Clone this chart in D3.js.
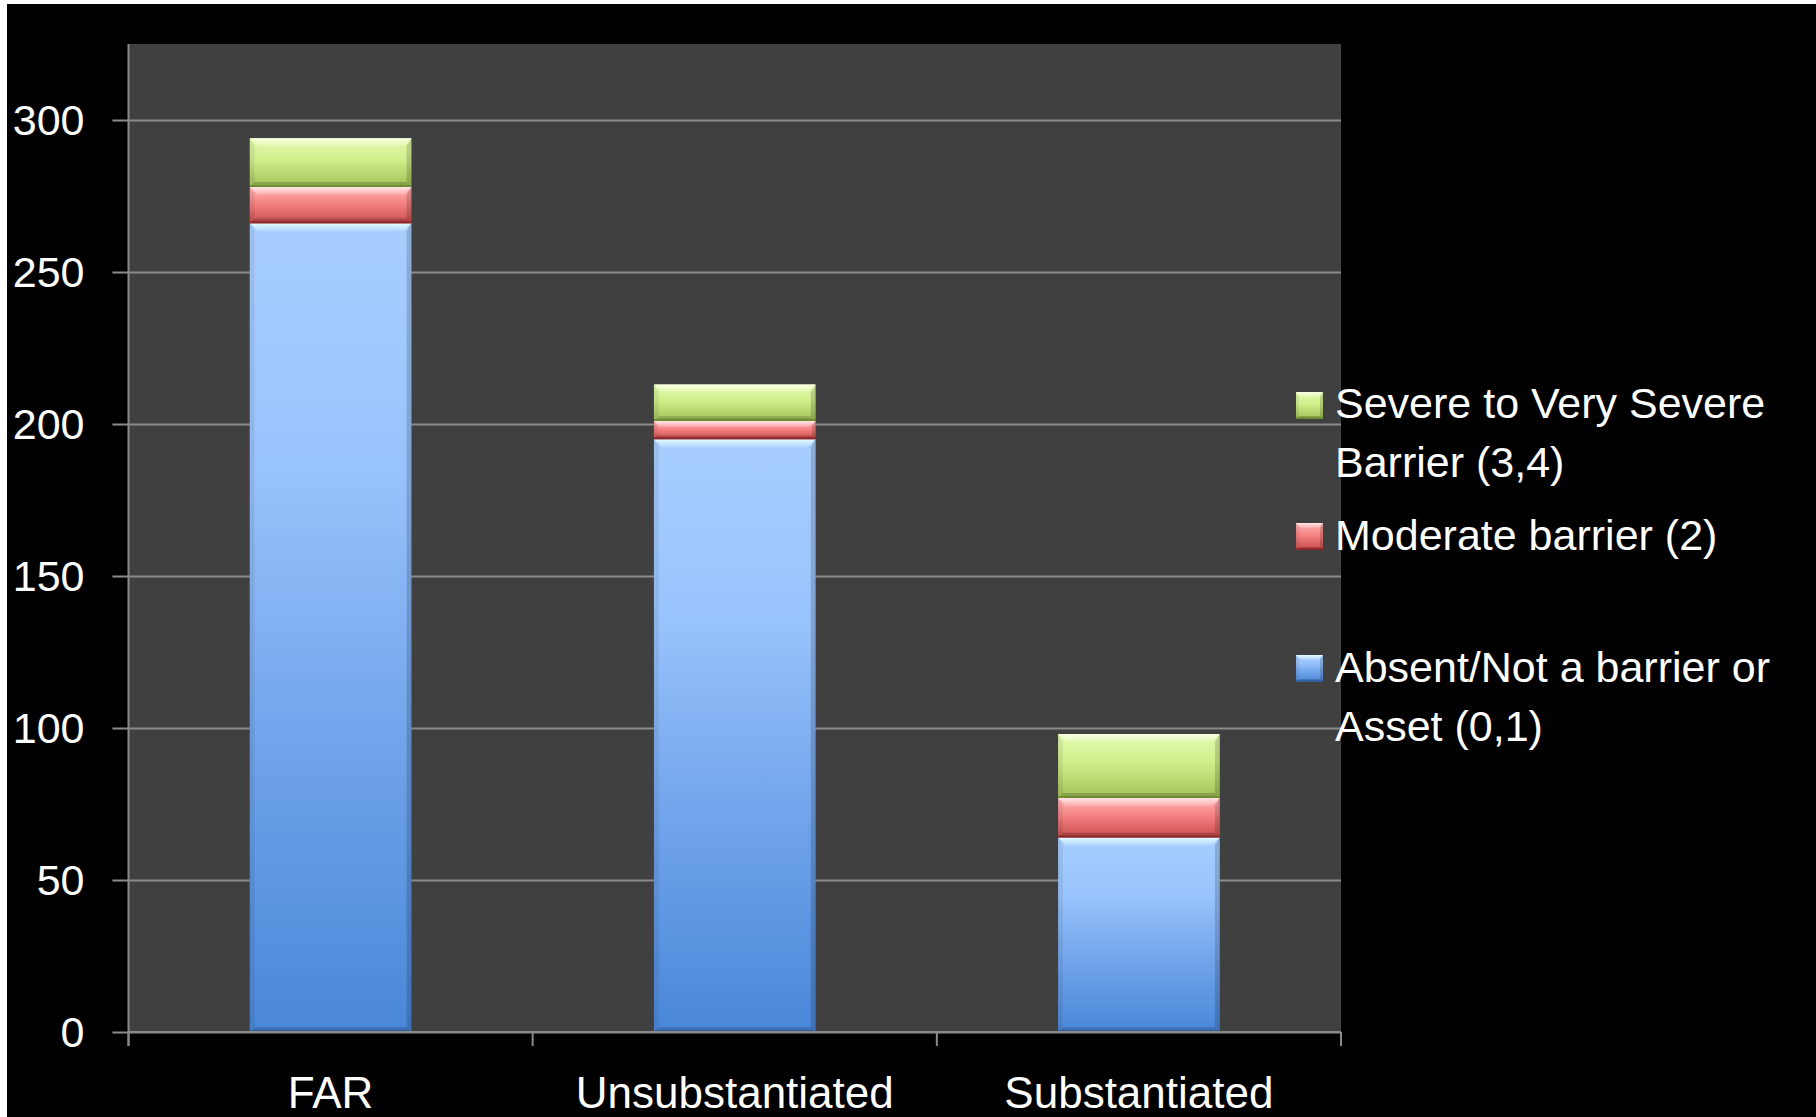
<!DOCTYPE html>
<html>
<head>
<meta charset="utf-8">
<script src="https://cdn.jsdelivr.net/npm/d3@7"></script>
<style>
  html, body { margin: 0; padding: 0; background: #ffffff; }
  svg { display: block; }
  text { font-family: "Liberation Sans", Arial, sans-serif; fill: #ffffff; }
</style>
</head>
<body>
<svg id="chart" width="1816" height="1117"></svg>
<script>
// Barrier ratings by report outcome
const categories = ["FAR", "Unsubstantiated", "Substantiated"];
const absentValues = [266, 195, 64];     // Absent/Not a barrier or Asset (0,1)
const moderateValues = [12, 6, 13];      // Moderate barrier (2)
const severeValues = [16, 12, 21];       // Severe to Very Severe Barrier (3,4)
const yTickValues = [0, 50, 100, 150, 200, 250, 300];
const seriesKeys = ["absent", "moderate", "severe"];
const legendLabels = {
  severe: ["Severe to Very Severe", "Barrier (3,4)"],
  moderate: ["Moderate barrier (2)"],
  absent: ["Absent/Not a barrier or", "Asset (0,1)"]
};

const W = 1816, H = 1117;
const plot = { left: 128.5, right: 1341, top: 44, bottom: 1032 };

const svg = d3.select("#chart");

// dark page area (thin white margin on top/left)
svg.append("rect").attr("x", 7).attr("y", 4).attr("width", W - 7).attr("height", H - 4).attr("fill", "#000000");

const rows = categories.map((c, i) => ({
  category: c, absent: absentValues[i], moderate: moderateValues[i], severe: severeValues[i]
}));
const stacked = d3.stack().keys(seriesKeys)(rows);

const x = d3.scaleBand().domain(categories).range([plot.left, plot.right])
  .paddingInner(0.6).paddingOuter(0.3);
const y = d3.scaleLinear().domain([0, 325]).range([plot.bottom, plot.top]);

// gradients
const defs = svg.append("defs");
const palettes = {
  absent:   { stops: [[0, "#a8ceff"], [0.3, "#99c3fc"], [0.65, "#6fa3ea"], [1, "#4a87d8"]], edge: "#2f5f9e", hi: "#e8ffff" },
  moderate: { stops: [[0, "#ffb4b4"], [0.45, "#f58282"], [1, "#c84c4c"]], edge: "#8e2222", hi: "#ffe6e6" },
  severe:   { stops: [[0, "#e4fab0"], [0.45, "#d0ee8a"], [1, "#a2c257"]], edge: "#6a8a2a", hi: "#fbffe4" }
};
Object.entries(palettes).forEach(([k, p]) => {
  const g = defs.append("linearGradient").attr("id", "g-" + k)
    .attr("x1", 0).attr("y1", 0).attr("x2", 0).attr("y2", 1);
  p.stops.forEach(s => g.append("stop").attr("offset", s[0]).attr("stop-color", s[1]));
  const h = defs.append("linearGradient").attr("id", "h-" + k)
    .attr("x1", 0).attr("y1", 0).attr("x2", 0).attr("y2", 1);
  h.append("stop").attr("offset", 0).attr("stop-color", p.hi).attr("stop-opacity", 0.95);
  h.append("stop").attr("offset", 1).attr("stop-color", p.hi).attr("stop-opacity", 0.15);
});

// plot background
svg.append("rect").attr("x", plot.left).attr("y", plot.top)
  .attr("width", plot.right - plot.left).attr("height", plot.bottom - plot.top)
  .attr("fill", "#404040");

// gridlines + left tick marks
const yAxis = d3.axisLeft(y).tickValues(yTickValues).tickSize(plot.right - plot.left + 16)
  .tickPadding(28).tickFormat(d3.format("d"));
const gy = svg.append("g").attr("transform", `translate(${plot.right},0)`).call(yAxis);
gy.select(".domain").remove();
gy.selectAll(".tick line").attr("stroke", "#8a8a8a").attr("stroke-width", 2);
gy.selectAll(".tick text").attr("font-size", 43).attr("fill", "#ffffff")
  .attr("font-family", "Liberation Sans, Arial, sans-serif").attr("dy", "0.34em");

// bevelled stacked segments
function bevel(g, bx, by, bw, bh, key, b) {
  const p = palettes[key];
  b = Math.min(b, bh / 3);
  g.append("rect").attr("x", bx).attr("y", by).attr("width", bw).attr("height", bh)
    .attr("fill", `url(#g-${key})`);
  // top highlight
  g.append("polygon").attr("points",
    [[bx, by], [bx + bw, by], [bx + bw - b, by + b], [bx + b, by + b]].join(" "))
    .attr("fill", `url(#h-${key})`);
  // left/right shading
  g.append("polygon").attr("points",
    [[bx, by], [bx + b * 0.6, by + b], [bx + b * 0.6, by + bh - b * 0.6], [bx, by + bh]].join(" "))
    .attr("fill", "#000").attr("opacity", 0.07);
  g.append("polygon").attr("points",
    [[bx + bw, by], [bx + bw - b * 0.6, by + b], [bx + bw - b * 0.6, by + bh - b * 0.6], [bx + bw, by + bh]].join(" "))
    .attr("fill", "#000").attr("opacity", 0.16);
  // bottom shading
  g.append("polygon").attr("points",
    [[bx, by + bh], [bx + bw, by + bh], [bx + bw - b * 0.6, by + bh - b * 0.6], [bx + b * 0.6, by + bh - b * 0.6]].join(" "))
    .attr("fill", "#000").attr("opacity", 0.18);
  g.append("line").attr("x1", bx).attr("x2", bx + bw).attr("y1", by + bh - 1).attr("y2", by + bh - 1)
    .attr("stroke", p.edge).attr("stroke-width", 2).attr("opacity", 0.8);
}

const bars = svg.append("g");
stacked.forEach(layer => {
  layer.forEach(d => {
    const top = y(d[1]), bottom = y(d[0]);
    bevel(bars, x(d.data.category), top, x.bandwidth(), bottom - top, layer.key, 8);
  });
});

// x axis line with ticks at band boundaries
svg.append("line").attr("x1", plot.left).attr("x2", plot.right)
  .attr("y1", plot.bottom).attr("y2", plot.bottom).attr("stroke", "#8a8a8a").attr("stroke-width", 2);
svg.append("line").attr("x1", plot.left).attr("x2", plot.left)
  .attr("y1", plot.top).attr("y2", plot.bottom + 14).attr("stroke", "#8a8a8a").attr("stroke-width", 2);
const step = x.step();
const boundaries = d3.range(categories.length + 1).map(i => plot.left + i * step);
svg.selectAll(".xtick").data(boundaries).join("line")
  .attr("x1", d => d).attr("x2", d => d)
  .attr("y1", plot.bottom).attr("y2", plot.bottom + 14)
  .attr("stroke", "#8a8a8a").attr("stroke-width", 2);
svg.selectAll(".xlabel").data(categories).join("text")
  .attr("x", d => x(d) + x.bandwidth() / 2).attr("y", 1108)
  .attr("text-anchor", "middle").attr("font-size", 44).text(d => d);

// legend
const legendItems = [
  { key: "severe", box: 392, base: 418 },
  { key: "moderate", box: 523, base: 550 },
  { key: "absent", box: 655, base: 682 }
];
const lg = svg.append("g");
legendItems.forEach(it => {
  bevel(lg, 1296, it.box, 27, 27, it.key, 5);
  const t = lg.append("text").attr("x", 1335).attr("y", it.base).attr("font-size", 43);
  legendLabels[it.key].forEach((line, i) => {
    t.append("tspan").attr("x", 1335).attr("dy", i === 0 ? 0 : 58.5).text(line);
  });
});
</script>
</body>
</html>
